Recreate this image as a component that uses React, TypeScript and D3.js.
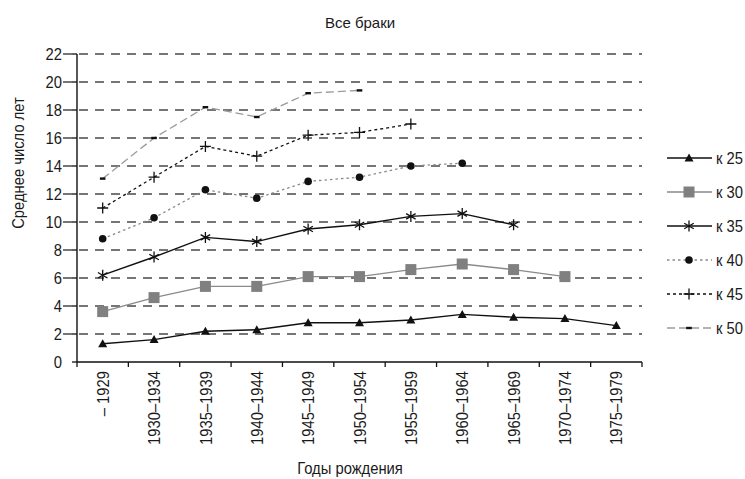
import React from "react";
import * as d3 from "d3";

const categories = ["– 1929", "1930–1934", "1935–1939", "1940–1944", "1945–1949", "1950–1954", "1955–1959", "1960–1964", "1965–1969", "1970–1974", "1975–1979"];
const k25 = [1.3, 1.6, 2.2, 2.3, 2.8, 2.8, 3.0, 3.4, 3.2, 3.1, 2.6];
const k30 = [3.6, 4.6, 5.4, 5.4, 6.1, 6.1, 6.6, 7.0, 6.6, 6.1];
const k35 = [6.2, 7.5, 8.9, 8.6, 9.5, 9.8, 10.4, 10.6, 9.8];
const k40 = [8.8, 10.3, 12.3, 11.7, 12.9, 13.2, 14.0, 14.2];
const k45 = [11.0, 13.2, 15.4, 14.7, 16.2, 16.4, 17.0];
const k50 = [13.1, 16.0, 18.2, 17.5, 19.2, 19.4];
const yTicks = [0, 2, 4, 6, 8, 10, 12, 14, 16, 18, 20, 22];
const seriesNames = ["к 25", "к 30", "к 35", "к 40", "к 45", "к 50"];

const FONT = "'Liberation Sans', Arial, sans-serif";
const TXT = "#1a1a1a";
const FS = 17;
const SX = 0.87;

type Style = { stroke: string; width: number; dash?: string; marker: string };
const styles: Style[] = [
  { stroke: "#111", width: 1.4, marker: "triangle" },
  { stroke: "#8a8a8a", width: 1.4, marker: "square" },
  { stroke: "#111", width: 1.4, marker: "asterisk" },
  { stroke: "#8a8a8a", width: 1.3, dash: "2.5,3", marker: "circle" },
  { stroke: "#111", width: 1.3, dash: "3,3", marker: "plus" },
  { stroke: "#9a9a9a", width: 1.3, dash: "8,4", marker: "dash" },
];

function T({ x, y, anchor = "start", rotate = 0, dy, fs = FS, sx = SX, children }: { x: number; y: number; anchor?: string; rotate?: number; dy?: string; fs?: number; sx?: number; children: React.ReactNode }) {
  return (
    <text
      transform={`translate(${x},${y}) rotate(${rotate}) scale(${sx},1)`}
      textAnchor={anchor}
      dy={dy}
      fontSize={fs}
      fill={TXT}
    >
      {children}
    </text>
  );
}

function Marker({ kind, x, y }: { kind: string; x: number; y: number }) {
  switch (kind) {
    case "triangle":
      return <path d={`M${x},${y - 4.5}L${x + 4.5},${y + 3.5}L${x - 4.5},${y + 3.5}Z`} fill="#111" />;
    case "square":
      return <rect x={x - 5.5} y={y - 5.5} width={11} height={11} fill="#808080" />;
    case "asterisk": {
      const r = 5.5;
      const dx = r * Math.cos(Math.PI / 6);
      const dy = r * Math.sin(Math.PI / 6);
      return (
        <path
          d={`M${x},${y - r}L${x},${y + r}M${x - dx},${y - dy}L${x + dx},${y + dy}M${x - dx},${y + dy}L${x + dx},${y - dy}`}
          stroke="#111"
          strokeWidth={1.3}
        />
      );
    }
    case "circle":
      return <circle cx={x} cy={y} r={3.8} fill="#111" />;
    case "plus":
      return <path d={`M${x - 5.5},${y}L${x + 5.5},${y}M${x},${y - 5.5}L${x},${y + 5.5}`} stroke="#111" strokeWidth={1.3} />;
    case "dash":
      return <rect x={x - 2.8} y={y - 1.2} width={5.6} height={2.4} fill="#111" />;
  }
  return null;
}

export default function App() {
  const W = 745, H = 479;
  const left = 77, right = 642, top = 54, bottom = 362;
  const x = d3.scaleBand<string>().domain(categories).range([left, right]).padding(0);
  const y = d3.scaleLinear().domain([0, 22]).range([bottom, top]);
  const bw = x.bandwidth();
  const cx = (i: number) => (x(categories[i]) as number) + bw / 2;
  const all = [k25, k30, k35, k40, k45, k50];
  const line = d3.line<number>().x((_, i) => cx(i)).y((d) => y(d));
  const legendY0 = 158, legendStep = 34;

  return (
    <svg width={W} height={H} style={{ position: "absolute", left: 0, top: 0, background: "#fff" }} fontFamily={FONT}>
      <rect width={W} height={H} fill="#fff" />
      <T x={360} y={27.5} anchor="middle" fs={15} sx={1}>Все браки</T>
      {yTicks.map((t) => (
        <g key={t}>
          {t > 0 && (
            <line x1={left - 14} x2={right} y1={y(t)} y2={y(t)} stroke="#4a4a4a" strokeWidth={1.3} strokeDasharray="9,7" />
          )}
          <line x1={left - 5} x2={left} y1={y(t)} y2={y(t)} stroke="#111" strokeWidth={1.3} />
          <T x={62} y={y(t)} dy="0.36em" anchor="end">{t}</T>
        </g>
      ))}
      <line x1={left} x2={left} y1={top} y2={bottom} stroke="#111" strokeWidth={1.4} />
      <line x1={left} x2={right} y1={bottom} y2={bottom} stroke="#111" strokeWidth={1.4} />
      {d3.range(categories.length + 1).map((i) => {
        const xx = left + i * bw;
        return <line key={i} x1={xx} x2={xx} y1={bottom} y2={bottom + 5} stroke="#111" strokeWidth={1.3} />;
      })}
      {categories.map((c, i) => (
        <T key={c} x={cx(i)} y={371} rotate={-90} dy="0.36em" anchor="end">{c}</T>
      ))}
      <T x={24} y={163} rotate={-90} anchor="middle">Среднее число лет</T>
      <T x={350} y={474} anchor="middle">Годы рождения</T>
      {all.map((s, k) => (
        <path key={k} d={line(s) as string} fill="none" stroke={styles[k].stroke} strokeWidth={styles[k].width} strokeDasharray={styles[k].dash} />
      ))}
      {all.map((s, k) => s.map((v, i) => <Marker key={`${k}-${i}`} kind={styles[k].marker} x={cx(i)} y={y(v)} />))}
      {seriesNames.map((n, k) => {
        const ly = legendY0 + k * legendStep;
        return (
          <g key={n}>
            <line x1={667} x2={712} y1={ly} y2={ly} stroke={styles[k].stroke} strokeWidth={styles[k].width} strokeDasharray={styles[k].dash} />
            <Marker kind={styles[k].marker} x={689} y={ly} />
            <T x={716} y={ly} dy="0.36em">{n}</T>
          </g>
        );
      })}
    </svg>
  );
}
